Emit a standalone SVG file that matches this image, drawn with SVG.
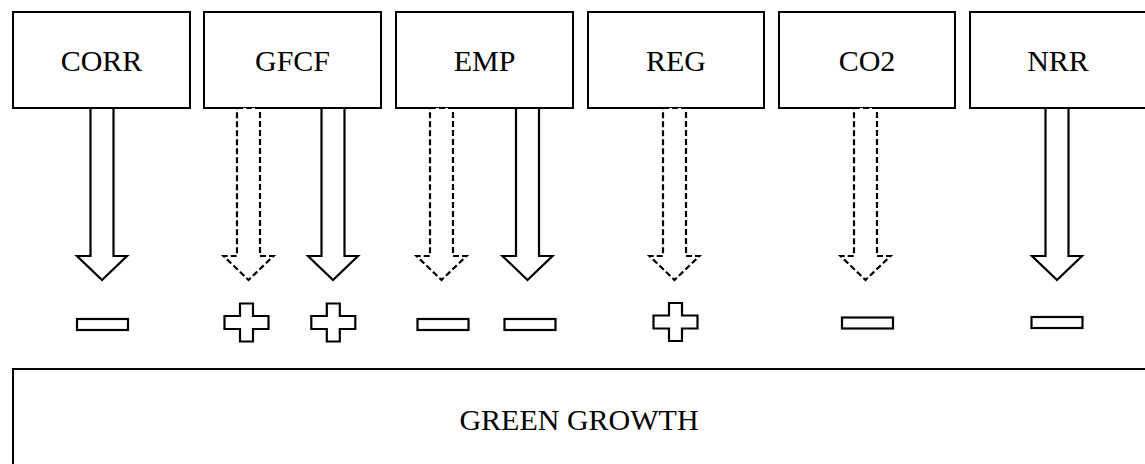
<svg xmlns="http://www.w3.org/2000/svg" xmlns:xlink="http://www.w3.org/1999/xlink" width="1145" height="464" viewBox="0 0 1145 464">
<style>
.box{fill:#fff;stroke:#000;stroke-width:2}
.lbl{font-family:"Liberation Serif","Times New Roman",serif;font-size:30px;fill:#000;text-anchor:middle}
.solid{fill:#fff;stroke:#000;stroke-width:2.2;stroke-linejoin:miter}
.dash{fill:#fff;stroke:#000;stroke-width:2.2;stroke-dasharray:6 3;stroke-linejoin:miter}
.sign{fill:#fff;stroke:#000;stroke-width:2.2}
</style>
<defs>
<path id="arrow" d="M -11.5,108 L 11.5,108 L 11.5,256 L 25,256 L 0,280 L -25,256 L -11.5,256 Z"/>
<path id="plus" d="M -6.5,-19 L 6.5,-19 L 6.5,-6.5 L 22,-6.5 L 22,6.5 L 6.5,6.5 L 6.5,19 L -6.5,19 L -6.5,6.5 L -22,6.5 L -22,-6.5 L -6.5,-6.5 Z"/>
<rect id="minus" x="-25.5" y="-5.5" width="51" height="11"/>
</defs>
<rect width="1145" height="464" fill="#fff"/>
<g id="node-corr"><rect class="box" x="13" y="12" width="177" height="96"/><text class="lbl" x="101.5" y="71">CORR</text></g>
<g id="node-gfcf"><rect class="box" x="204" y="12" width="177" height="96"/><text class="lbl" x="292.5" y="71">GFCF</text></g>
<g id="node-emp"><rect class="box" x="396" y="12" width="177" height="96"/><text class="lbl" x="484.5" y="71">EMP</text></g>
<g id="node-reg"><rect class="box" x="588" y="12" width="176" height="96"/><text class="lbl" x="676" y="71">REG</text></g>
<g id="node-co2"><rect class="box" x="779" y="12" width="176" height="96"/><text class="lbl" x="867" y="71">CO2</text></g>
<g id="node-nrr"><rect class="box" x="970" y="12" width="177" height="96"/><text class="lbl" x="1058" y="71">NRR</text></g>
<g id="node-green-growth"><rect class="box" x="13" y="369" width="1140" height="110"/><text class="lbl" x="579" y="430">GREEN GROWTH</text></g>
<g id="connectors">
<use xlink:href="#arrow" class="solid" transform="translate(102,0)"/>
<use xlink:href="#arrow" class="dash" transform="translate(248.5,0)"/>
<use xlink:href="#arrow" class="solid" transform="translate(333,0)"/>
<use xlink:href="#arrow" class="dash" transform="translate(441.5,0)"/>
<use xlink:href="#arrow" class="solid" transform="translate(527.5,0)"/>
<use xlink:href="#arrow" class="dash" transform="translate(674.5,0)"/>
<use xlink:href="#arrow" class="dash" transform="translate(865.5,0)"/>
<use xlink:href="#arrow" class="solid" transform="translate(1057,0)"/>
</g>
<g id="signs">
<use xlink:href="#minus" class="sign" transform="translate(102.5,324.5)"/>
<use xlink:href="#plus" class="sign" transform="translate(246.5,322.5)"/>
<use xlink:href="#plus" class="sign" transform="translate(333.3,322.5)"/>
<use xlink:href="#minus" class="sign" transform="translate(443,324.5)"/>
<use xlink:href="#minus" class="sign" transform="translate(530,324.5)"/>
<use xlink:href="#plus" class="sign" transform="translate(675.5,322)"/>
<use xlink:href="#minus" class="sign" transform="translate(867.5,323)"/>
<use xlink:href="#minus" class="sign" transform="translate(1057,322.5)"/>
</g>
</svg>
